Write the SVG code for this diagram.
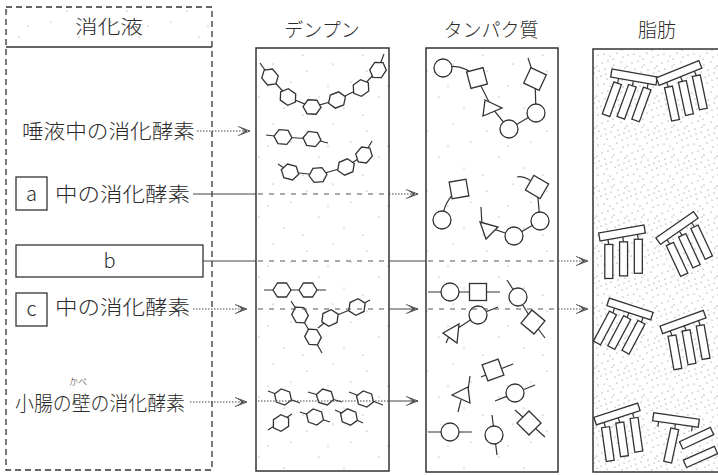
<svg xmlns="http://www.w3.org/2000/svg" xmlns:xlink="http://www.w3.org/1999/xlink" width="718" height="475" viewBox="0 0 718 475">
  <style>
    .txt { font-family: "Noto Sans CJK JP", "Noto Sans", sans-serif; fill: #2a2a2a; font-weight: 300; }
    .hdr { font-size: 19px; text-anchor: middle; }
    .lbl { font-size: 20px; }
    .frame { fill: none; stroke: #333; stroke-width: 1.5; }
    .dashframe { fill: none; stroke: #333; stroke-width: 1.3; stroke-dasharray: 6 4; }
    .box { fill: #fff; stroke: #333; stroke-width: 1.3; }
    .bond { fill: none; stroke: #333; stroke-width: 1.2; }
    .mol { fill: #fff; stroke: #333; stroke-width: 1.3; }
    .dot { fill: none; stroke: #444; stroke-width: 1; stroke-dasharray: 1.5 1.5; }
    .dash { fill: none; stroke: #555; stroke-width: 1.2; stroke-dasharray: 5 6; }
    .solid { fill: none; stroke: #444; stroke-width: 1; }
  </style>
  <defs>
    <pattern id="stipple" width="30" height="30" patternUnits="userSpaceOnUse">
      <g fill="#777">
        <circle cx="2" cy="3" r="0.6"/><circle cx="8" cy="1" r="0.6"/><circle cx="14" cy="5" r="0.6"/>
        <circle cx="21" cy="2" r="0.6"/><circle cx="27" cy="6" r="0.6"/><circle cx="5" cy="9" r="0.6"/>
        <circle cx="11" cy="12" r="0.6"/><circle cx="18" cy="10" r="0.6"/><circle cx="24" cy="13" r="0.6"/>
        <circle cx="29" cy="11" r="0.6"/><circle cx="1" cy="16" r="0.6"/><circle cx="7" cy="19" r="0.6"/>
        <circle cx="15" cy="17" r="0.6"/><circle cx="22" cy="20" r="0.6"/><circle cx="27" cy="18" r="0.6"/>
        <circle cx="4" cy="24" r="0.6"/><circle cx="10" cy="26" r="0.6"/><circle cx="17" cy="23" r="0.6"/>
        <circle cx="23" cy="27" r="0.6"/><circle cx="28" cy="25" r="0.6"/><circle cx="13" cy="29" r="0.6"/>
        <circle cx="19" cy="15" r="0.6"/><circle cx="6" cy="14" r="0.6"/><circle cx="25" cy="8" r="0.6"/>
        <circle cx="12" cy="7" r="0.6"/>
      </g>
    </pattern>
    <pattern id="sparse" width="60" height="60" patternUnits="userSpaceOnUse">
      <g fill="#888">
        <circle cx="7" cy="11" r="0.6"/><circle cx="33" cy="4" r="0.6"/><circle cx="51" cy="22" r="0.6"/>
        <circle cx="19" cy="37" r="0.6"/><circle cx="44" cy="48" r="0.6"/><circle cx="3" cy="55" r="0.6"/>
        <circle cx="28" cy="26" r="0.6"/>
      </g>
    </pattern>
    <marker id="arrow" viewBox="0 0 12 10" refX="12" refY="5" markerWidth="12" markerHeight="10" markerUnits="userSpaceOnUse" orient="auto">
      <path d="M0,0.5 L12,5 L0,9.5 M3,2 L9,5 L3,8 M5,3.5 L8,5 L5,6.5" fill="none" stroke="#444" stroke-width="0.9"/>
    </marker>
    <!-- glucose ring -->
    <path id="hex" class="mol" d="M-9,0 L-4.5,-7 L4.5,-7 L9,0 L4.5,7 L-4.5,7 Z"/>
    <!-- amino acid shapes -->
    <circle id="circ" class="mol" r="9"/>
    <rect id="sq" class="mol" x="-8.5" y="-8.5" width="17" height="17"/>
    <!-- fatty acid chain -->
    <rect id="fa" class="mol" x="-4" y="0" width="8" height="34"/>
    <!-- triglyceride: glycerol bar with three fatty acids -->
    <g id="tg">
      <path class="bond" d="M-15,3 V9 M0,3 V9 M15,3 V9"/>
      <use href="#fa" transform="translate(-15,9) rotate(10)"/>
      <use href="#fa" transform="translate(0,9) rotate(10)"/>
      <use href="#fa" transform="translate(15,9) rotate(10)"/>
      <rect class="mol" x="-23" y="-4" width="46" height="8"/>
    </g>
  </defs>

  <rect width="718" height="475" fill="#fff"/>

  <!-- digestive juice column -->
  <g id="juice-column">
    <rect x="6" y="7" width="206" height="40" fill="url(#sparse)"/>
    <rect class="dashframe" x="6" y="7" width="206" height="463"/>
    <line x1="6" y1="47" x2="212" y2="47" stroke="#333" stroke-width="1.6"/>
    <text class="txt hdr" x="109" y="34" textLength="68" lengthAdjust="spacingAndGlyphs">消化液</text>
  </g>

  <g id="saliva">
    <text class="txt lbl" x="22" y="139" textLength="173" lengthAdjust="spacingAndGlyphs">唾液中の消化酵素</text>
  </g>
  <g id="juice-a">
    <rect class="box" x="16" y="177" width="31" height="33"/>
    <text class="txt lbl" x="31.5" y="201" text-anchor="middle">a</text>
    <text class="txt lbl" x="55" y="202" textLength="135" lengthAdjust="spacingAndGlyphs">中の消化酵素</text>
  </g>
  <g id="juice-b">
    <rect class="box" x="16" y="245" width="187" height="32"/>
    <text class="txt lbl" x="109.5" y="268" text-anchor="middle">b</text>
  </g>
  <g id="juice-c">
    <rect class="box" x="16" y="293" width="31" height="33"/>
    <text class="txt lbl" x="31.5" y="316" text-anchor="middle">c</text>
    <text class="txt lbl" x="55" y="315" textLength="135" lengthAdjust="spacingAndGlyphs">中の消化酵素</text>
  </g>
  <g id="intestine-wall">
    <text class="txt" x="78" y="385" font-size="9" text-anchor="middle">かべ</text>
    <text class="txt lbl" x="15" y="411" textLength="170" lengthAdjust="spacingAndGlyphs">小腸の壁の消化酵素</text>
  </g>

  <!-- starch -->
  <g id="starch">
    <rect x="256" y="48" width="133" height="423" fill="url(#sparse)"/>
    <rect class="frame" x="256" y="48" width="133" height="423"/>
    <text class="txt hdr" x="322" y="37">デンプン</text>
    <polyline class="bond" points="260,63 270,77 288,97 312,107 337,100 361,88 378,70 384,54"/>
    <use href="#hex" transform="translate(270,77) rotate(50)"/>
    <use href="#hex" transform="translate(288,97) rotate(35)"/>
    <use href="#hex" transform="translate(312,107) rotate(3)"/>
    <use href="#hex" transform="translate(337,100) rotate(-21)"/>
    <use href="#hex" transform="translate(361,88) rotate(-36)"/>
    <use href="#hex" transform="translate(378,70) rotate(-56)"/>

    <polyline class="bond" points="266,135 283,137 312,139 328,143"/>
    <use href="#hex" transform="translate(283,137) rotate(5)"/>
    <use href="#hex" transform="translate(312,139) rotate(8)"/>

    <polyline class="bond" points="278,164 290,172 318,175 346,167 364,155 372,141"/>
    <use href="#hex" transform="translate(290,172) rotate(15)"/>
    <use href="#hex" transform="translate(318,175) rotate(-5)"/>
    <use href="#hex" transform="translate(346,167) rotate(-23)"/>
    <use href="#hex" transform="translate(364,155) rotate(-50)"/>

    <polyline class="bond" points="264,290 282,290 308,290 326,290"/>
    <use href="#hex" transform="translate(282,290)"/>
    <use href="#hex" transform="translate(308,290)"/>

    <polyline class="bond" points="291,301 300,315 313,337 322,353"/>
    <polyline class="bond" points="318,328 330,318 357,307 370,300"/>
    <use href="#hex" transform="translate(300,315) rotate(60)"/>
    <use href="#hex" transform="translate(313,337) rotate(60)"/>
    <use href="#hex" transform="translate(330,318) rotate(-25)"/>
    <use href="#hex" transform="translate(357,307) rotate(-25)"/>

    <path class="bond" d="M268,391 L300,403 M308,392 L342,402 M349,392 L383,405 M268,430 L292,414 M300,412 L330,422 M335,410 L363,423"/>
    <use href="#hex" transform="translate(283,397) rotate(20)"/>
    <use href="#hex" transform="translate(325,397) rotate(16)"/>
    <use href="#hex" transform="translate(365,399) rotate(20)"/>
    <use href="#hex" transform="translate(281,423) rotate(-33)"/>
    <use href="#hex" transform="translate(315,417) rotate(20)"/>
    <use href="#hex" transform="translate(349,417) rotate(22)"/>
  </g>

  <!-- protein -->
  <g id="protein">
    <rect x="426" y="48" width="132" height="424" fill="url(#sparse)"/>
    <rect class="frame" x="426" y="48" width="132" height="424"/>
    <text class="txt hdr" x="491" y="37">タンパク質</text>
    <path class="bond" d="M443,68 Q462,62 477,78 L492,108 L509,129 L536,113 L535,79 L528,58"/>
    <use href="#circ" transform="translate(443,68)"/>
    <use href="#sq" transform="translate(477,78) rotate(-15)"/>
    <polygon class="mol" points="485,100 502,108 483,116"/>
    <use href="#circ" transform="translate(509,129)"/>
    <use href="#circ" transform="translate(536,113)"/>
    <use href="#sq" transform="translate(535,79) rotate(25)"/>

    <path class="bond" d="M459,189 Q444,200 442,220 M481,207 L482,225 L514,236 L540,221 L537,187 Q527,175 517,177"/>
    <use href="#sq" transform="translate(459,189) rotate(-10)"/>
    <use href="#circ" transform="translate(442,220)"/>
    <polygon class="mol" points="480,222 498,227 486,239"/>
    <use href="#circ" transform="translate(514,236)"/>
    <use href="#circ" transform="translate(540,221)"/>
    <use href="#sq" transform="translate(537,187) rotate(30)"/>

    <path class="bond" d="M428,292 H500 M507,280 L518,297 L533,322 L545,338 M452,332 L478,315 L498,307 M446,343 L450,334"/>
    <use href="#circ" transform="translate(450,292)"/>
    <use href="#sq" transform="translate(478,292)"/>
    <use href="#circ" transform="translate(518,297)"/>
    <use href="#sq" transform="translate(533,322) rotate(40)"/>
    <use href="#circ" transform="translate(478,315)"/>
    <polygon class="mol" points="443,333 459,324 457,343"/>

    <path class="bond" d="M481,377 L513,364 M470,376 L468,390 M458,412 L461,400 M495,401 L535,385 M428,432 H472 M492,415 L497,455 M515,410 L545,437"/>
    <use href="#sq" transform="translate(493,370) rotate(-20)"/>
    <polygon class="mol" points="452,395 468,387 470,403"/>
    <use href="#circ" transform="translate(515,393)"/>
    <use href="#circ" transform="translate(450,432)"/>
    <use href="#circ" transform="translate(494,435)"/>
    <use href="#sq" transform="translate(529,423) rotate(45)"/>
  </g>

  <!-- fat -->
  <g id="fat">
    <rect x="593" y="49" width="127" height="423" fill="url(#stipple)"/>
    <rect class="frame" x="593" y="49" width="127" height="423"/>
    <text class="txt hdr" x="657" y="37">脂肪</text>
    <use href="#tg" transform="translate(634,77) rotate(10)"/>
    <use href="#tg" transform="translate(679,73) rotate(-22)"/>
    <use href="#tg" transform="translate(622,233) rotate(-10)"/>
    <use href="#tg" transform="translate(677,228) rotate(-35)"/>
    <use href="#tg" transform="translate(630,309) rotate(18)"/>
    <use href="#tg" transform="translate(683,322) rotate(-20)"/>
    <use href="#tg" transform="translate(617,414) rotate(-18)"/>
    <g transform="translate(676,420) rotate(8)">
      <path class="bond" d="M-17,4 V9 M0,4 V9 M17,4 V9"/>
      <use href="#fa" transform="translate(0,9) rotate(4)"/>
      <rect class="mol" x="-23" y="-4" width="46" height="8"/>
    </g>
    <use href="#fa" transform="translate(712,431) rotate(65)"/>
    <use href="#fa" transform="translate(716,450) rotate(66)"/>
  </g>

  <!-- connectors -->
  <g id="connectors">
    <line class="dot" x1="197" y1="131" x2="250" y2="131" marker-end="url(#arrow)"/>

    <line class="solid" x1="193" y1="194" x2="256" y2="194"/>
    <line class="dash" x1="258" y1="194" x2="389" y2="194"/>
    <line class="dot" x1="389" y1="194" x2="418" y2="194" marker-end="url(#arrow)"/>

    <line class="solid" x1="203" y1="261" x2="256" y2="261"/>
    <line class="dash" x1="258" y1="261" x2="389" y2="261"/>
    <line class="solid" x1="389" y1="261" x2="426" y2="261"/>
    <line class="dash" x1="428" y1="261" x2="558" y2="261"/>
    <line class="dot" x1="558" y1="261" x2="588" y2="261" marker-end="url(#arrow)"/>

    <line class="dot" x1="193" y1="309" x2="247" y2="309" marker-end="url(#arrow)"/>
    <line class="dash" x1="258" y1="309" x2="389" y2="309"/>
    <line class="solid" x1="389" y1="309" x2="418" y2="309" marker-end="url(#arrow)"/>
    <line class="dash" x1="428" y1="309" x2="558" y2="309"/>
    <line class="dot" x1="558" y1="309" x2="588" y2="309" marker-end="url(#arrow)"/>

    <line class="dot" x1="190" y1="402" x2="247" y2="402" marker-end="url(#arrow)"/>
    <line class="dot" x1="258" y1="401" x2="389" y2="401"/>
    <line class="solid" x1="389" y1="401" x2="418" y2="401" marker-end="url(#arrow)"/>
  </g>
</svg>
